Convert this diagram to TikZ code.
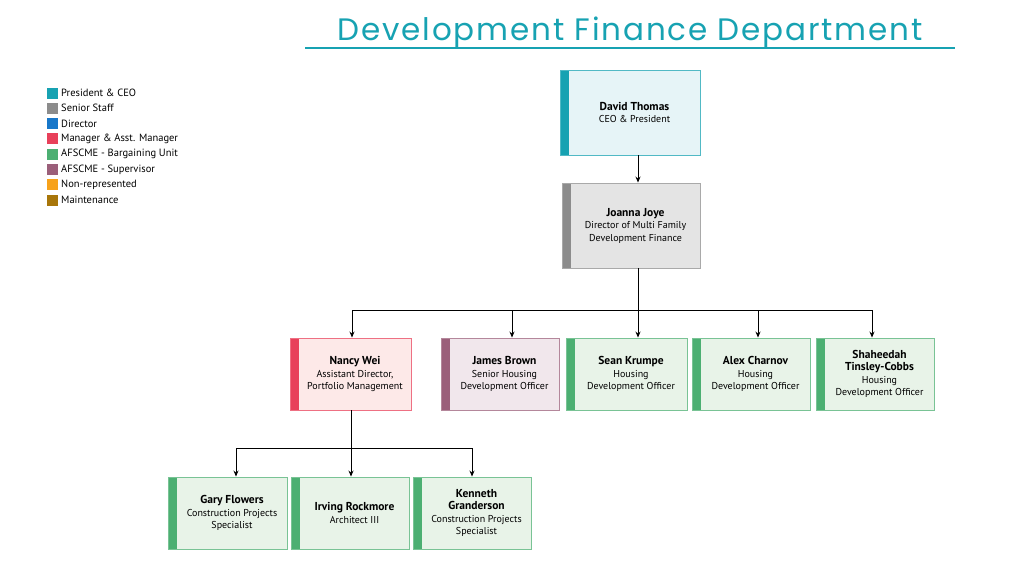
\documentclass[tikz,border=0pt]{standalone}
\usepackage{fontspec}
\setmainfont{PT Sans}
\newfontfamily\titlefont{Poppins}
\usetikzlibrary{arrows.meta}
\definecolor{cteal}{HTML}{17A2B2}\definecolor{fteal}{HTML}{E6F4F7}
\definecolor{cgray}{HTML}{8C8C8C}\definecolor{fgray}{HTML}{E4E4E4}
\definecolor{cblue}{HTML}{1877C9}
\definecolor{cred}{HTML}{E8405A}\definecolor{fred}{HTML}{FDE9E8}
\definecolor{cgreen}{HTML}{4CAF72}\definecolor{fgreen}{HTML}{E8F3E8}
\definecolor{cpurp}{HTML}{9B5F7A}\definecolor{fpurp}{HTML}{F1E7EC}
\definecolor{corange}{HTML}{F7A21B}\definecolor{cbrown}{HTML}{A8760A}
\tikzset{
 pbox/.style args={#1/#2}{draw=#1!75, fill=#2, line width=0.9pt, align=center, inner sep=0pt,
   font=\fontsize{10}{12.5}\selectfont,
   path picture={\fill[#1] (path picture bounding box.north west) rectangle ([xshift=9pt]path picture bounding box.south west);}},
 arr/.style={-{Stealth[length=6pt,width=5pt]}, line width=0.8pt},
 ln/.style={line width=0.8pt},
 leg/.style={anchor=west, font=\fontsize{10.5}{12}\selectfont, inner sep=0pt},
}
\newcommand\nm[1]{{\bfseries\fontsize{11.5}{13.5}\selectfont #1}}
\begin{document}
\begin{tikzpicture}[x=1pt,y=-1pt]
\useasboundingbox (0,0) rectangle (1024,570);
\node[font=\titlefont\fontsize{31}{34}\selectfont, text=cteal, inner sep=0pt] (title) at (630,33) {\addfontfeatures{LetterSpace=6}Development Finance Department};
\draw[cteal, line width=1.6pt] (305,48) -- (955,48);
% legend
\foreach \c/\t [count=\i from 0] in {cteal/President \& CEO, cgray/Senior Staff, cblue/Director, cred/Manager \& Asst. Manager, cgreen/AFSCME - Bargaining Unit, cpurp/AFSCME - Supervisor, corange/Non-represented, cbrown/Maintenance}{
  \fill[\c] (47,{87.5+15.3*\i}) rectangle (58,{98.5+15.3*\i});
  \node[leg] (leg\i) at (61,{93+15.3*\i}) {\t};
}
% boxes
\node[pbox=cteal/fteal, minimum width=140pt, minimum height=85pt] (david) at (630,112.5) {\hspace{9pt}\nm{David Thomas}\\\hspace{9pt}CEO \& President};
\node[pbox=cgray/fgray, minimum width=138pt, minimum height=85pt] (joanna) at (631,225.5) {\hspace{9pt}\nm{Joanna Joye}\\\hspace{9pt}Director of Multi Family\\\hspace{9pt}Development Finance};
\node[pbox=cred/fred, minimum width=121pt, minimum height=72pt] (nancy) at (350.5,374) {\hspace{9pt}\nm{Nancy Wei}\\\hspace{9pt}Assistant Director,\\\hspace{9pt}Portfolio Management};
\node[pbox=cpurp/fpurp, minimum width=118pt, minimum height=72pt] (james) at (500,374) {\hspace{9pt}\nm{James Brown}\\\hspace{9pt}Senior Housing\\\hspace{9pt}Development Officer};
\node[pbox=cgreen/fgreen, minimum width=121pt, minimum height=72pt] (sean) at (626.5,374) {\hspace{9pt}\nm{Sean Krumpe}\\\hspace{9pt}Housing\\\hspace{9pt}Development Officer};
\node[pbox=cgreen/fgreen, minimum width=118pt, minimum height=72pt] (alex) at (751,374) {\hspace{9pt}\nm{Alex Charnov}\\\hspace{9pt}Housing\\\hspace{9pt}Development Officer};
\node[pbox=cgreen/fgreen, minimum width=118pt, minimum height=72pt] (shah) at (875,374) {\hspace{9pt}\nm{Shaheedah}\\\hspace{9pt}\nm{Tinsley-Cobbs}\\\hspace{9pt}Housing\\\hspace{9pt}Development Officer};
\node[pbox=cgreen/fgreen, minimum width=119pt, minimum height=72pt] (gary) at (227.5,513) {\hspace{9pt}\nm{Gary Flowers}\\\hspace{9pt}Construction Projects\\\hspace{9pt}Specialist};
\node[pbox=cgreen/fgreen, minimum width=118pt, minimum height=72pt] (irving) at (350,513) {\hspace{9pt}\nm{Irving Rockmore}\\\hspace{9pt}Architect III};
\node[pbox=cgreen/fgreen, minimum width=118pt, minimum height=72pt] (kenneth) at (472,513) {\hspace{9pt}\nm{Kenneth}\\\hspace{9pt}\nm{Granderson}\\\hspace{9pt}Construction Projects\\\hspace{9pt}Specialist};
% connectors
\draw[arr] (david.south -| 638,0) -- (joanna.north -| 638,0);
\coordinate (j1) at (638,310);
\draw[ln] (joanna.south -| 638,0) -- (j1);
\draw[ln] (352,310) -- (872,310);
\foreach \n/\x in {nancy/352, james/512, sean/638, alex/758, shah/872}{
  \draw[arr] (\x,310) -- (\n.north -| \x,0);
}
\draw[ln] (nancy.south -| 351,0) -- (351,448);
\draw[ln] (236,448) -- (472,448);
\foreach \n/\x in {gary/236, irving/351, kenneth/472}{
  \draw[arr] (\x,448) -- (\n.north -| \x,0);
}
\end{tikzpicture}
\end{document}
